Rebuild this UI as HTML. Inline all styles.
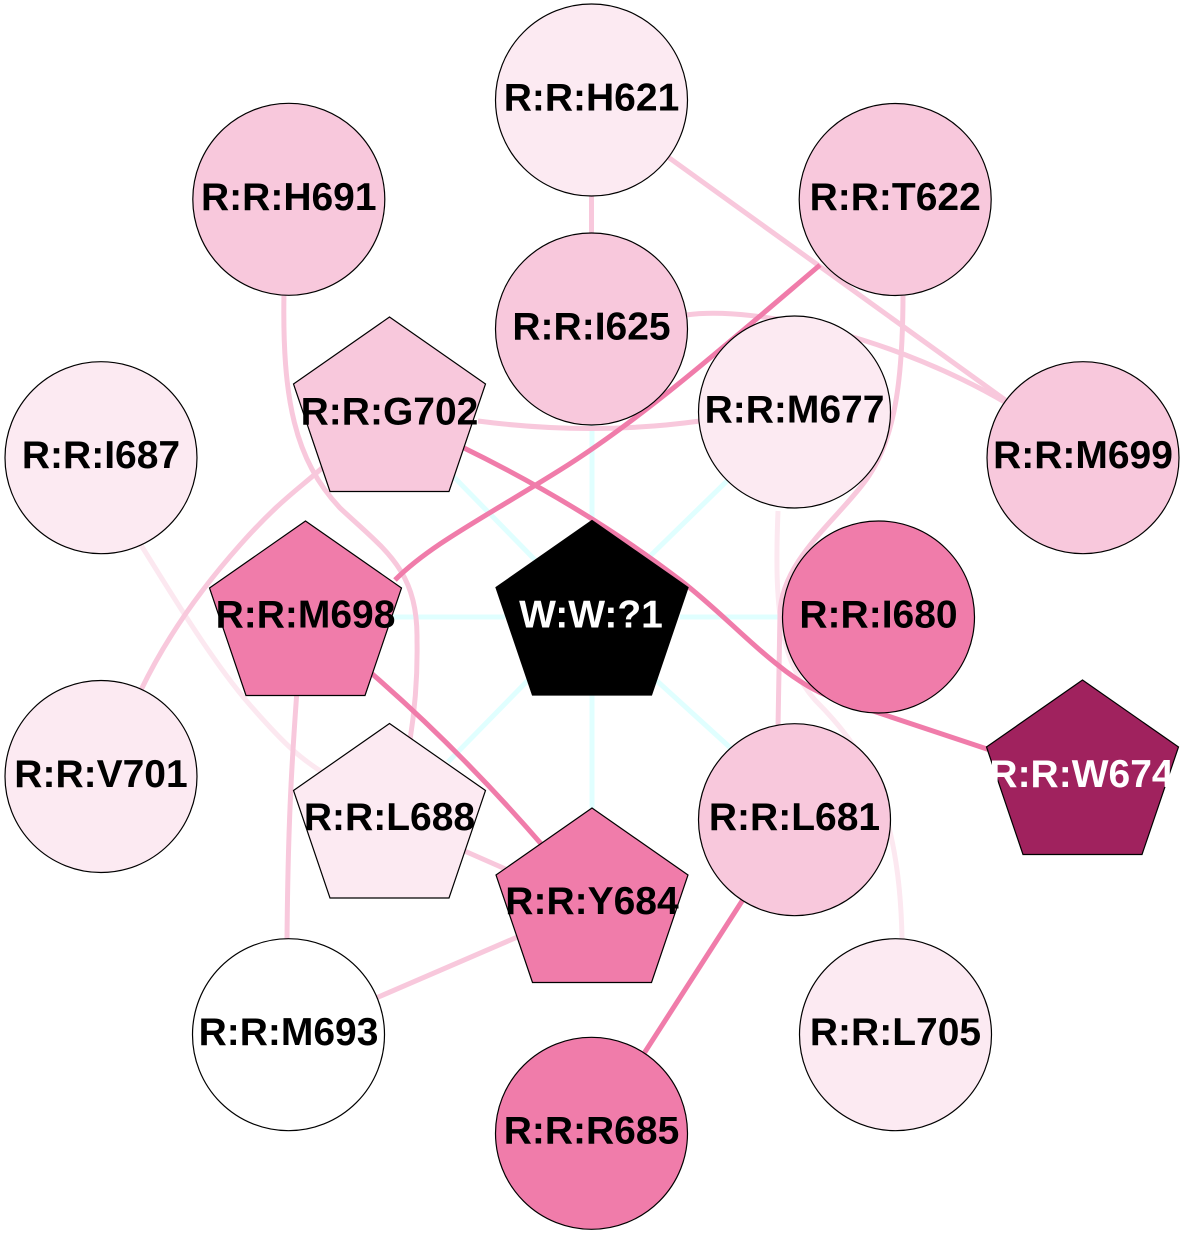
<!DOCTYPE html>
<html>
<head>
<meta charset="utf-8">
<style>
  html, body { margin: 0; padding: 0; background: #ffffff; }
  svg { display: block; }
  text { font-family: "Liberation Sans", Arial, sans-serif; font-weight: bold; font-size: 39px; text-anchor: middle; }
</style>
</head>
<body>
<svg width="1184" height="1235" viewBox="0 0 1184 1235" xmlns="http://www.w3.org/2000/svg">
  <rect x="0" y="0" width="1184" height="1235" fill="#ffffff"/>

  <!-- cyan edges from W:W:?1 -->
  <g stroke="#e0ffff" stroke-width="5" fill="none">
    <line x1="592" y1="530" x2="592" y2="420"/>
    <line x1="645" y1="561" x2="730" y2="478"/>
    <line x1="680" y1="617" x2="785" y2="617"/>
    <line x1="645" y1="670" x2="735" y2="752"/>
    <line x1="592" y1="690" x2="592" y2="812"/>
    <line x1="538" y1="670" x2="448" y2="762"/>
    <line x1="505" y1="617" x2="390" y2="617"/>
    <line x1="540" y1="565" x2="450" y2="473"/>
  </g>

  <!-- very light pink edges -->
  <g stroke="#fce8f0" stroke-width="5" fill="none">
    <path d="M141,545 C175,600 215,665 250,705 S300,758 322,772"/>
    <path d="M778,511 C774,610 780,660 815,700 C860,745 900,800 902,940"/>
  </g>

  <!-- light pink edges -->
  <g stroke="#f8c8dc" stroke-width="5" fill="none">
    <line x1="591.5" y1="190" x2="591.5" y2="240"/>
    <line x1="668" y1="157" x2="1008" y2="402"/>
    <path d="M686,315 C760,305 900,340 1008,404"/>
    <path d="M478,421 Q592,436 700,421"/>
    <path d="M903,292 C903,380 895,440 866,480 S782,560 780,613 L778,728"/>
    <path d="M284,292 C282,400 295,460 340,508 C385,550 418,570 417,640 Q418,690 410,740"/>
    <path d="M141,690 C165,640 200,590 240,545 S300,488 322,468"/>
    <path d="M297,690 C292,760 288,820 287,940"/>
    <line x1="460" y1="849" x2="510" y2="871"/>
    <line x1="376" y1="998" x2="522" y2="935"/>
  </g>

  <!-- darker pink edges -->
  <g stroke="#f07caa" stroke-width="5" fill="none">
    <path d="M820,265 C720,350 640,420 560,470 S430,545 395,580"/>
    <path d="M460,446 C540,485 615,530 680,580 C735,622 785,685 840,700 L990,750"/>
    <path d="M370,672 Q460,750 543,846"/>
    <line x1="744" y1="898" x2="643" y2="1055"/>
  </g>

  <!-- circle nodes -->
  <g stroke="#000000" stroke-width="1.2">
    <circle cx="591.5" cy="100" r="96" fill="#fceaf2"/>
    <circle cx="288.8" cy="199.3" r="96" fill="#f8c8dc"/>
    <circle cx="895.2" cy="199.5" r="96" fill="#f8c8dc"/>
    <circle cx="591.5" cy="329" r="96" fill="#f8c8dc"/>
    <circle cx="794.5" cy="412" r="96" fill="#fceaf2"/>
    <circle cx="101" cy="457.7" r="96" fill="#fceaf2"/>
    <circle cx="1083" cy="457.7" r="96" fill="#f8c8dc"/>
    <circle cx="878.5" cy="617" r="96" fill="#f07caa"/>
    <circle cx="101" cy="776.5" r="96" fill="#fceaf2"/>
    <circle cx="794.5" cy="819.7" r="96" fill="#f8c8dc"/>
    <circle cx="288.5" cy="1034.7" r="96" fill="#ffffff"/>
    <circle cx="895.5" cy="1034.7" r="96" fill="#fceaf2"/>
    <circle cx="591.5" cy="1133.3" r="96" fill="#f07caa"/>
  </g>

  <!-- pentagon nodes -->
  <g stroke="#000000" stroke-width="1.2">
    <!-- G702 (389.5,414) -->
    <polygon points="389.5,317 485.5,384 449,491.5 330,491.5 293.5,384" fill="#f8c8dc"/>
    <!-- M698 (305.5,618) -->
    <polygon points="305.5,521 401.5,588 365,695.5 246,695.5 209.5,588" fill="#f07caa"/>
    <!-- W:W:?1 (592,617.5) -->
    <polygon points="592,520.5 688,587.5 651.5,695 532.5,695 496,587.5" fill="#000000"/>
    <!-- W674 (1082.5,777) -->
    <polygon points="1082.5,680 1178.5,747 1142,854.5 1023,854.5 986.5,747" fill="#a0225e"/>
    <!-- L688 (389.5,820.5) -->
    <polygon points="389.5,723.5 485.5,790.5 449,898 330,898 293.5,790.5" fill="#fceaf2"/>
    <!-- Y684 (592,905) -->
    <polygon points="592,808 688,875 651.5,982.5 532.5,982.5 496,875" fill="#f07caa"/>
  </g>

  <!-- labels -->
  <g fill="#000000">
    <text x="591.5" y="110.5">R:R:H621</text>
    <text x="288.8" y="210">R:R:H691</text>
    <text x="895.2" y="210">R:R:T622</text>
    <text x="591.5" y="339.5">R:R:I625</text>
    <text x="389.5" y="424.5">R:R:G702</text>
    <text x="794.5" y="422.5">R:R:M677</text>
    <text x="101" y="468">R:R:I687</text>
    <text x="1083" y="468">R:R:M699</text>
    <text x="305.5" y="627.5">R:R:M698</text>
    <text x="878.5" y="627.5">R:R:I680</text>
    <text x="101" y="787">R:R:V701</text>
    <text x="389.5" y="830">R:R:L688</text>
    <text x="794.5" y="830">R:R:L681</text>
    <text x="592" y="914">R:R:Y684</text>
    <text x="288.5" y="1045">R:R:M693</text>
    <text x="895.5" y="1045">R:R:L705</text>
    <text x="591.5" y="1143.5">R:R:R685</text>
  </g>
  <g fill="#ffffff">
    <text x="591" y="627.5">W:W:?1</text>
    <text x="1081.5" y="787">R:R:W674</text>
  </g>
</svg>
</body>
</html>
